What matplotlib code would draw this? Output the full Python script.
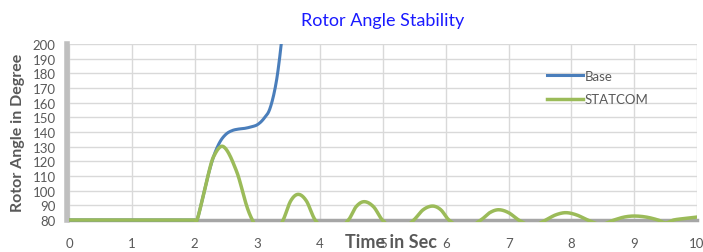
#!/usr/bin/env python3
"""Rotor angle stability: Base vs STATCOM (Excel-style smoothed lines)."""
import matplotlib
matplotlib.use("Agg")
import matplotlib.pyplot as plt
import numpy as np
from matplotlib.patches import Rectangle

# Values (time in s, angle in degrees).
# Points below 80 are estimated troughs; the axis clips them.
base_t = [0, 1, 2.0, 2.04, 2.2, 2.3, 2.4, 2.5, 2.6, 2.7, 2.8, 2.9, 3.0,
          3.1, 3.2, 3.3, 3.38, 3.45]
base_deg = [80, 80, 80, 80, 108, 123, 133, 138.5, 141, 142, 142.5, 143.5,
            145, 149, 156, 174, 200, 230]

statcom_t = [0, 1, 2.0, 2.04, 2.2, 2.3, 2.46, 2.67, 2.83, 2.92, 3.17,
             3.41, 3.53, 3.65, 3.78, 3.92, 4.18,
             4.45, 4.57, 4.70, 4.85, 4.99, 5.24,
             5.49, 5.64, 5.79, 5.92, 6.05, 6.30,
             6.56, 6.70, 6.84, 7.00, 7.16, 7.38,
             7.59, 7.75, 7.91, 8.08, 8.26, 8.47,
             8.68, 8.84, 9.00, 9.19, 9.38, 9.50,
             9.63, 9.80, 10.0]
statcom_deg = [80, 80, 80, 80, 108, 123, 130, 113, 89.5, 80, 62,
               80, 93, 97.5, 93, 80, 70,
               80, 89, 92.5, 89, 80, 72,
               80, 87, 89.5, 87, 80, 74,
               80, 85, 87, 85, 80, 76,
               80, 83.5, 85, 83.5, 80, 77,
               80, 82, 82.7, 82, 80, 78,
               80, 81, 82]

x_ticks = list(range(0, 11))
y_ticks = list(range(80, 201, 10))

BLUE = "#4A7EBB"
GREEN = "#9BBB59"
GRID = "#D9D9D9"
AXIS = "#A6A6A6"
TEXT = "#595959"

plt.rcParams["font.family"] = ["Lato", "DejaVu Sans"]


def smooth(t, v, n=20):
    """Catmull-Rom style smoothing, like Excel's smoothed line."""
    t = np.asarray(t, float)
    v = np.asarray(v, float)
    m = np.zeros_like(v)
    m[1:-1] = (v[2:] - v[:-2]) / (t[2:] - t[:-2])
    m[0] = (v[1] - v[0]) / (t[1] - t[0])
    m[-1] = (v[-1] - v[-2]) / (t[-1] - t[-2])
    xs, ys = [], []
    for i in range(len(t) - 1):
        h = t[i + 1] - t[i]
        s = np.linspace(0, 1, n, endpoint=False)
        h00 = 2 * s**3 - 3 * s**2 + 1
        h10 = s**3 - 2 * s**2 + s
        h01 = -2 * s**3 + 3 * s**2
        h11 = s**3 - s**2
        xs.append(t[i] + s * h)
        ys.append(h00 * v[i] + h10 * h * m[i] + h01 * v[i + 1] + h11 * h * m[i + 1])
    xs.append([t[-1]])
    ys.append([v[-1]])
    return np.concatenate(xs), np.concatenate(ys)


fig = plt.figure(figsize=(7.03, 2.53), dpi=100)
ax = fig.add_axes([69 / 703, 1 - 221 / 253, 628 / 703, 176 / 253])

ax.set_xlim(0, 10)
ax.set_ylim(80, 200)
ax.set_xticks(x_ticks)
ax.set_yticks(y_ticks)
ax.grid(True, color=GRID, linewidth=1.0)
ax.set_axisbelow(True)
ax.tick_params(length=0, labelsize=9.5, labelcolor=TEXT)
ax.tick_params(axis="x", pad=12)
ax.tick_params(axis="y", pad=8)

for side in ("top", "right"):
    ax.spines[side].set_visible(False)
ax.spines["left"].set_color("#BFBFBF")
ax.spines["left"].set_linewidth(4)
ax.spines["left"].set_position(("outward", 1.5))
ax.spines["bottom"].set_color(AXIS)
ax.spines["bottom"].set_linewidth(2.5)
ax.spines["bottom"].set_zorder(1.5)

clip = Rectangle((0, -0.012), 1, 1.012, transform=ax.transAxes,
                 facecolor="none", edgecolor="none")
ax.add_patch(clip)

bx, by = smooth(base_t, base_deg)
sx, sy = smooth(statcom_t, statcom_deg)
lb, = ax.plot(bx, by, color=BLUE, linewidth=2.2, label="Base", zorder=3)
ls, = ax.plot(sx, sy, color=GREEN, linewidth=2.5, label="STATCOM", zorder=3)
lb.set_clip_path(clip)
ls.set_clip_path(clip)

fig.text(383 / 703, 1 - 21 / 253, "Rotor Angle Stability", color="#1A1AFF",
         fontsize=13, ha="center", va="center")
fig.text(391 / 703, 1 - 243 / 253, "Time in Sec", color=TEXT,
         fontsize=13, fontweight="bold", ha="center", va="center")
fig.text(18 / 703, 1 - 133 / 253, "Rotor Angle in Degree", color=TEXT,
         fontsize=11.5, fontweight="bold", ha="center", va="center",
         rotation=90)

ax.legend(loc="upper left", bbox_to_anchor=(547 / 703, 1 - 71 / 253),
          bbox_transform=fig.transFigure, frameon=False, fontsize=9.5,
          labelcolor=TEXT, handlelength=2.7, handletextpad=0.15,
          labelspacing=0.85, borderpad=0, borderaxespad=0)

fig.savefig("out.png", dpi=100)
